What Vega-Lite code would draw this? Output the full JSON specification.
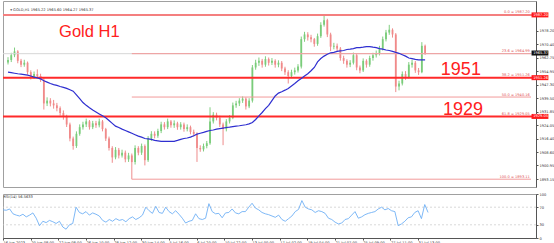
{
  "$schema": "https://vega.github.io/schema/vega-lite/v6.json",
  "padding": 0,
  "background": "white",
  "spacing": 3,
  "config": {
    "view": {"stroke": "#a0a0a0", "strokeWidth": 1},
    "axis": {"labelFont": "DejaVu Sans", "labelFontSize": 3.6, "labelColor": "#333", "domainColor": "#555", "tickColor": "#555", "tickSize": 2, "grid": false, "title": null, "labelPadding": 1, "labelOverlap": false}
  },
  "datasets": {
    "bars": [
      {"b":0,"o":1960.0,"h":1963.0,"l":1958.8,"c":1961.4,"ma":1954.4,"rsi":64},
      {"b":6,"o":1961.4,"h":1965.5,"l":1960.2,"c":1964.1,"ma":1954.1,"rsi":63},
      {"b":12,"o":1964.1,"h":1968.5,"l":1963.0,"c":1966.3,"ma":1953.8,"rsi":66},
      {"b":18,"o":1966.3,"h":1967.0,"l":1959.5,"c":1960.9,"ma":1953.5,"rsi":55},
      {"b":24,"o":1960.9,"h":1962.0,"l":1957.3,"c":1958.7,"ma":1953.3,"rsi":52},
      {"b":30,"o":1958.7,"h":1961.5,"l":1957.5,"c":1959.8,"ma":1953.0,"rsi":50},
      {"b":36,"o":1959.8,"h":1960.5,"l":1953.0,"c":1954.4,"ma":1952.7,"rsi":54},
      {"b":42,"o":1954.4,"h":1955.5,"l":1950.2,"c":1951.6,"ma":1952.2,"rsi":48},
      {"b":48,"o":1951.6,"h":1954.8,"l":1950.5,"c":1953.3,"ma":1951.6,"rsi":52},
      {"b":54,"o":1953.3,"h":1956.0,"l":1951.0,"c":1952.2,"ma":1951.1,"rsi":57},
      {"b":60,"o":1952.2,"h":1953.5,"l":1948.8,"c":1950.0,"ma":1950.6,"rsi":45},
      {"b":66,"o":1950.0,"h":1951.0,"l":1933.0,"c":1936.5,"ma":1949.5,"rsi":28},
      {"b":72,"o":1936.5,"h":1940.0,"l":1935.0,"c":1938.1,"ma":1948.7,"rsi":38},
      {"b":78,"o":1938.1,"h":1939.5,"l":1934.8,"c":1936.5,"ma":1947.9,"rsi":35},
      {"b":84,"o":1936.5,"h":1938.5,"l":1933.5,"c":1935.4,"ma":1947.3,"rsi":40},
      {"b":90,"o":1935.4,"h":1936.8,"l":1932.0,"c":1933.8,"ma":1946.8,"rsi":37},
      {"b":96,"o":1933.8,"h":1934.8,"l":1929.5,"c":1931.0,"ma":1946.2,"rsi":33},
      {"b":102,"o":1931.0,"h":1932.5,"l":1927.2,"c":1928.9,"ma":1945.7,"rsi":38},
      {"b":108,"o":1928.9,"h":1930.0,"l":1923.0,"c":1924.5,"ma":1945.1,"rsi":25},
      {"b":114,"o":1924.5,"h":1925.5,"l":1914.8,"c":1916.4,"ma":1944.3,"rsi":20},
      {"b":120,"o":1916.4,"h":1917.5,"l":1910.0,"c":1912.1,"ma":1943.5,"rsi":30},
      {"b":126,"o":1912.1,"h":1920.5,"l":1911.0,"c":1919.1,"ma":1941.4,"rsi":33},
      {"b":132,"o":1919.1,"h":1924.5,"l":1918.0,"c":1922.9,"ma":1939.2,"rsi":70},
      {"b":138,"o":1922.9,"h":1926.0,"l":1921.5,"c":1924.5,"ma":1937.0,"rsi":58},
      {"b":144,"o":1924.5,"h":1927.8,"l":1923.0,"c":1926.2,"ma":1935.4,"rsi":55},
      {"b":150,"o":1926.2,"h":1927.0,"l":1921.5,"c":1922.9,"ma":1934.0,"rsi":60},
      {"b":156,"o":1922.9,"h":1926.5,"l":1921.8,"c":1925.1,"ma":1932.7,"rsi":52},
      {"b":162,"o":1925.1,"h":1926.5,"l":1922.5,"c":1924.0,"ma":1931.6,"rsi":57},
      {"b":168,"o":1924.0,"h":1927.8,"l":1922.8,"c":1926.2,"ma":1930.5,"rsi":54},
      {"b":174,"o":1926.2,"h":1927.0,"l":1920.5,"c":1921.8,"ma":1929.4,"rsi":50},
      {"b":180,"o":1921.8,"h":1922.5,"l":1915.0,"c":1916.4,"ma":1928.3,"rsi":40},
      {"b":186,"o":1916.4,"h":1917.5,"l":1909.5,"c":1911.0,"ma":1926.7,"rsi":36},
      {"b":192,"o":1911.0,"h":1912.0,"l":1902.5,"c":1905.6,"ma":1925.1,"rsi":42},
      {"b":198,"o":1905.6,"h":1911.5,"l":1904.5,"c":1909.9,"ma":1923.5,"rsi":38},
      {"b":204,"o":1909.9,"h":1911.0,"l":1905.0,"c":1906.7,"ma":1922.7,"rsi":44},
      {"b":210,"o":1906.7,"h":1910.0,"l":1905.5,"c":1908.3,"ma":1921.8,"rsi":40},
      {"b":216,"o":1908.3,"h":1909.5,"l":1902.8,"c":1904.5,"ma":1921.0,"rsi":42},
      {"b":222,"o":1904.5,"h":1908.2,"l":1903.0,"c":1906.7,"ma":1920.2,"rsi":37},
      {"b":228,"o":1906.7,"h":1907.8,"l":1893.1,"c":1902.9,"ma":1919.4,"rsi":44},
      {"b":234,"o":1902.9,"h":1912.5,"l":1901.5,"c":1911.0,"ma":1918.6,"rsi":48},
      {"b":240,"o":1911.0,"h":1912.0,"l":1906.8,"c":1908.3,"ma":1917.8,"rsi":42},
      {"b":246,"o":1908.3,"h":1913.5,"l":1907.0,"c":1912.1,"ma":1917.2,"rsi":46},
      {"b":252,"o":1912.1,"h":1913.0,"l":1901.0,"c":1904.0,"ma":1916.4,"rsi":52},
      {"b":258,"o":1904.0,"h":1917.8,"l":1903.0,"c":1916.4,"ma":1916.2,"rsi":70},
      {"b":264,"o":1916.4,"h":1920.6,"l":1915.0,"c":1919.1,"ma":1915.9,"rsi":62},
      {"b":270,"o":1919.1,"h":1920.5,"l":1916.5,"c":1918.0,"ma":1915.3,"rsi":56},
      {"b":276,"o":1918.0,"h":1922.0,"l":1916.8,"c":1920.7,"ma":1915.1,"rsi":72},
      {"b":282,"o":1920.7,"h":1926.0,"l":1919.5,"c":1924.5,"ma":1914.8,"rsi":58},
      {"b":288,"o":1924.5,"h":1925.8,"l":1921.5,"c":1922.9,"ma":1914.8,"rsi":56},
      {"b":294,"o":1922.9,"h":1927.8,"l":1921.8,"c":1926.2,"ma":1914.8,"rsi":70},
      {"b":300,"o":1926.2,"h":1927.0,"l":1922.6,"c":1924.0,"ma":1914.8,"rsi":60},
      {"b":306,"o":1924.0,"h":1926.8,"l":1922.5,"c":1925.1,"ma":1914.8,"rsi":55},
      {"b":312,"o":1925.1,"h":1926.0,"l":1921.4,"c":1922.9,"ma":1915.3,"rsi":62},
      {"b":318,"o":1922.9,"h":1925.8,"l":1921.5,"c":1924.5,"ma":1915.9,"rsi":54},
      {"b":324,"o":1924.5,"h":1925.5,"l":1920.3,"c":1921.8,"ma":1916.4,"rsi":45},
      {"b":330,"o":1921.8,"h":1924.5,"l":1920.5,"c":1922.9,"ma":1916.7,"rsi":34},
      {"b":336,"o":1922.9,"h":1923.8,"l":1918.8,"c":1920.2,"ma":1917.2,"rsi":38},
      {"b":342,"o":1920.2,"h":1921.5,"l":1917.5,"c":1919.1,"ma":1918.0,"rsi":40},
      {"b":348,"o":1919.1,"h":1920.0,"l":1903.0,"c":1911.0,"ma":1918.9,"rsi":55},
      {"b":354,"o":1911.0,"h":1912.5,"l":1908.8,"c":1910.2,"ma":1919.4,"rsi":44},
      {"b":360,"o":1910.2,"h":1913.5,"l":1909.0,"c":1912.1,"ma":1919.9,"rsi":42},
      {"b":366,"o":1912.1,"h":1915.0,"l":1910.8,"c":1913.7,"ma":1920.5,"rsi":45},
      {"b":372,"o":1913.7,"h":1934.3,"l":1912.8,"c":1926.2,"ma":1921.0,"rsi":78},
      {"b":378,"o":1926.2,"h":1931.5,"l":1925.0,"c":1930.0,"ma":1921.3,"rsi":60},
      {"b":384,"o":1930.0,"h":1931.2,"l":1926.8,"c":1928.3,"ma":1921.8,"rsi":55},
      {"b":390,"o":1928.3,"h":1929.5,"l":1923.0,"c":1924.5,"ma":1922.1,"rsi":56},
      {"b":396,"o":1924.5,"h":1925.5,"l":1912.6,"c":1921.8,"ma":1922.4,"rsi":46},
      {"b":402,"o":1921.8,"h":1927.5,"l":1920.5,"c":1926.2,"ma":1922.7,"rsi":57},
      {"b":408,"o":1926.2,"h":1929.8,"l":1925.0,"c":1928.3,"ma":1922.9,"rsi":58},
      {"b":414,"o":1928.3,"h":1937.0,"l":1927.5,"c":1935.4,"ma":1923.2,"rsi":66},
      {"b":420,"o":1935.4,"h":1938.0,"l":1934.0,"c":1936.5,"ma":1923.5,"rsi":57},
      {"b":426,"o":1936.5,"h":1939.5,"l":1935.0,"c":1938.1,"ma":1923.7,"rsi":55},
      {"b":432,"o":1938.1,"h":1940.5,"l":1936.8,"c":1939.2,"ma":1924.0,"rsi":60},
      {"b":438,"o":1939.2,"h":1940.0,"l":1933.0,"c":1934.8,"ma":1924.3,"rsi":60},
      {"b":444,"o":1934.8,"h":1939.5,"l":1933.8,"c":1938.1,"ma":1924.8,"rsi":70},
      {"b":450,"o":1938.1,"h":1958.5,"l":1937.0,"c":1957.1,"ma":1925.6,"rsi":79},
      {"b":456,"o":1957.1,"h":1961.5,"l":1955.8,"c":1959.8,"ma":1927.3,"rsi":68},
      {"b":462,"o":1959.8,"h":1962.8,"l":1958.0,"c":1960.9,"ma":1929.4,"rsi":64},
      {"b":468,"o":1960.9,"h":1962.0,"l":1957.0,"c":1958.7,"ma":1931.3,"rsi":58},
      {"b":474,"o":1958.7,"h":1963.5,"l":1957.5,"c":1961.9,"ma":1933.5,"rsi":55},
      {"b":480,"o":1961.9,"h":1962.8,"l":1958.2,"c":1959.8,"ma":1935.4,"rsi":53},
      {"b":486,"o":1959.8,"h":1962.5,"l":1958.5,"c":1960.9,"ma":1938.1,"rsi":50},
      {"b":492,"o":1960.9,"h":1961.8,"l":1957.0,"c":1958.7,"ma":1940.8,"rsi":47},
      {"b":498,"o":1958.7,"h":1961.2,"l":1957.2,"c":1959.8,"ma":1942.4,"rsi":52},
      {"b":504,"o":1959.8,"h":1960.8,"l":1955.0,"c":1956.5,"ma":1943.2,"rsi":42},
      {"b":510,"o":1956.5,"h":1957.5,"l":1952.8,"c":1954.4,"ma":1944.1,"rsi":38},
      {"b":516,"o":1954.4,"h":1955.5,"l":1947.9,"c":1952.2,"ma":1945.1,"rsi":44},
      {"b":522,"o":1952.2,"h":1955.8,"l":1951.0,"c":1954.4,"ma":1946.5,"rsi":50},
      {"b":528,"o":1954.4,"h":1957.0,"l":1953.0,"c":1955.4,"ma":1947.9,"rsi":60},
      {"b":534,"o":1955.4,"h":1959.0,"l":1954.2,"c":1957.6,"ma":1949.5,"rsi":65},
      {"b":540,"o":1957.6,"h":1974.8,"l":1956.5,"c":1973.3,"ma":1950.8,"rsi":85},
      {"b":546,"o":1973.3,"h":1977.5,"l":1971.8,"c":1976.0,"ma":1952.2,"rsi":70},
      {"b":552,"o":1976.0,"h":1977.3,"l":1972.5,"c":1974.4,"ma":1953.5,"rsi":66},
      {"b":558,"o":1974.4,"h":1975.8,"l":1971.5,"c":1973.3,"ma":1955.2,"rsi":64},
      {"b":564,"o":1973.3,"h":1974.0,"l":1969.0,"c":1970.6,"ma":1957.1,"rsi":58},
      {"b":570,"o":1970.6,"h":1976.5,"l":1969.5,"c":1975.0,"ma":1960.3,"rsi":62},
      {"b":576,"o":1975.0,"h":1983.0,"l":1974.0,"c":1981.5,"ma":1962.2,"rsi":60},
      {"b":582,"o":1981.5,"h":1987.2,"l":1980.5,"c":1984.2,"ma":1963.6,"rsi":56},
      {"b":588,"o":1984.2,"h":1985.0,"l":1974.5,"c":1976.0,"ma":1964.7,"rsi":45},
      {"b":594,"o":1976.0,"h":1977.0,"l":1966.5,"c":1969.0,"ma":1965.5,"rsi":42},
      {"b":600,"o":1969.0,"h":1971.2,"l":1967.5,"c":1969.5,"ma":1965.7,"rsi":36},
      {"b":606,"o":1969.5,"h":1970.8,"l":1966.2,"c":1967.9,"ma":1966.3,"rsi":32},
      {"b":612,"o":1967.9,"h":1968.8,"l":1961.0,"c":1962.5,"ma":1966.6,"rsi":34},
      {"b":618,"o":1962.5,"h":1963.8,"l":1959.2,"c":1960.9,"ma":1966.8,"rsi":42},
      {"b":624,"o":1960.9,"h":1961.8,"l":1957.0,"c":1958.7,"ma":1967.4,"rsi":44},
      {"b":630,"o":1958.7,"h":1961.3,"l":1957.3,"c":1959.8,"ma":1967.6,"rsi":52},
      {"b":636,"o":1959.8,"h":1965.6,"l":1958.8,"c":1964.1,"ma":1967.9,"rsi":60},
      {"b":642,"o":1964.1,"h":1965.0,"l":1955.5,"c":1957.1,"ma":1968.5,"rsi":45},
      {"b":648,"o":1957.1,"h":1958.2,"l":1953.8,"c":1955.4,"ma":1968.5,"rsi":48},
      {"b":654,"o":1955.4,"h":1962.3,"l":1954.5,"c":1960.9,"ma":1968.7,"rsi":53},
      {"b":660,"o":1960.9,"h":1961.8,"l":1957.0,"c":1958.7,"ma":1969.0,"rsi":56},
      {"b":666,"o":1958.7,"h":1963.8,"l":1957.5,"c":1962.5,"ma":1969.0,"rsi":58},
      {"b":672,"o":1962.5,"h":1965.5,"l":1961.0,"c":1964.1,"ma":1968.7,"rsi":60},
      {"b":678,"o":1964.1,"h":1966.8,"l":1962.8,"c":1965.2,"ma":1968.5,"rsi":66},
      {"b":684,"o":1965.2,"h":1969.5,"l":1964.0,"c":1967.9,"ma":1967.9,"rsi":70},
      {"b":690,"o":1967.9,"h":1974.8,"l":1966.8,"c":1973.3,"ma":1967.6,"rsi":64},
      {"b":696,"o":1973.3,"h":1978.6,"l":1972.0,"c":1977.1,"ma":1967.1,"rsi":67},
      {"b":702,"o":1977.1,"h":1981.5,"l":1975.8,"c":1978.7,"ma":1966.8,"rsi":62},
      {"b":708,"o":1978.7,"h":1979.5,"l":1974.2,"c":1976.0,"ma":1966.3,"rsi":60},
      {"b":714,"o":1976.0,"h":1976.8,"l":1943.0,"c":1946.2,"ma":1965.7,"rsi":28},
      {"b":720,"o":1946.2,"h":1949.5,"l":1944.0,"c":1947.9,"ma":1965.2,"rsi":32},
      {"b":726,"o":1947.9,"h":1954.8,"l":1946.8,"c":1953.3,"ma":1964.4,"rsi":38},
      {"b":732,"o":1953.3,"h":1955.0,"l":1950.0,"c":1951.6,"ma":1963.6,"rsi":46},
      {"b":738,"o":1951.6,"h":1960.2,"l":1950.8,"c":1958.7,"ma":1962.5,"rsi":48},
      {"b":744,"o":1958.7,"h":1961.5,"l":1957.0,"c":1959.8,"ma":1962.2,"rsi":58},
      {"b":750,"o":1959.8,"h":1960.8,"l":1954.0,"c":1955.4,"ma":1961.7,"rsi":62},
      {"b":756,"o":1955.4,"h":1956.8,"l":1952.8,"c":1954.4,"ma":1961.4,"rsi":44},
      {"b":762,"o":1954.4,"h":1971.6,"l":1953.8,"c":1969.5,"ma":1961.4,"rsi":76},
      {"b":768,"o":1969.5,"h":1970.2,"l":1964.3,"c":1965.4,"ma":1961.4,"rsi":58}
    ],
    "fib": [
      {"lvl":"0.0","p":1987.20},
      {"lvl":"23.6","p":1964.99},
      {"lvl":"38.2","p":1951.26},
      {"lvl":"50.0","p":1940.16},
      {"lvl":"61.8","p":1929.05},
      {"lvl":"100.0","p":1893.11}
    ],
    "tags": [
      {"p":1987.20,"kind":"line"},
      {"p":1965.37,"kind":"price"},
      {"p":1951.26,"kind":"line"},
      {"p":1929.05,"kind":"line"}
    ]
  },
  "vconcat": [
    {
      "width": 533,
      "height": 186,
      "layer": [
        {
          "data": {"name": "bars"},
          "mark": {"type": "rule", "strokeWidth": 0.9},
          "encoding": {
            "x": {"field": "b", "type": "quantitative", "scale": {"domain": [0, 963], "nice": false, "zero": false}, "axis": null},
            "y": {"field": "l", "type": "quantitative", "scale": {"domain": [1891.5, 1992.3], "nice": false, "zero": false},
                  "axis": {"orient": "right", "values": [1978.2, 1970.4, 1962.75, 1954.95, 1947.3, 1939.5, 1931.85, 1924.05, 1916.4, 1908.6, 1900.95, 1893.15], "format": ".2f"}},
            "y2": {"field": "h"},
            "color": {"condition": {"test": "datum.c >= datum.o", "value": "#72c872"}, "value": "#ec7f7f"}
          }
        },
        {
          "data": {"name": "bars"},
          "mark": {"type": "bar", "size": 1.8, "orient": "vertical"},
          "encoding": {
            "x": {"field": "b", "type": "quantitative", "axis": null},
            "y": {"field": "o", "type": "quantitative", "axis": {"orient": "right", "values": [1978.2, 1970.4, 1962.75, 1954.95, 1947.3, 1939.5, 1931.85, 1924.05, 1916.4, 1908.6, 1900.95, 1893.15], "format": ".2f"}},
            "y2": {"field": "c"},
            "color": {"condition": {"test": "datum.c >= datum.o", "value": "#7acc7a"}, "value": "#f08a8a"}
          }
        },
        {
          "data": {"name": "fib"},
          "transform": [{"filter": "datum.lvl == '23.6'"}],
          "mark": {"type": "rule", "color": "#d6d6d6", "strokeWidth": 1},
          "encoding": {"y": {"field": "p", "type": "quantitative", "axis": {"orient": "right", "values": [1978.2, 1970.4, 1962.75, 1954.95, 1947.3, 1939.5, 1931.85, 1924.05, 1916.4, 1908.6, 1900.95, 1893.15], "format": ".2f"}}}
        },
        {
          "data": {"name": "fib"},
          "transform": [{"filter": "datum.lvl == '23.6' || datum.lvl == '50.0' || datum.lvl == '100.0'"}],
          "mark": {"type": "rule", "color": "#f29a9a", "strokeWidth": 1},
          "encoding": {"x": {"datum": 228, "type": "quantitative", "axis": null}, "x2": {"datum": 963}, "y": {"field": "p", "type": "quantitative", "axis": {"orient": "right", "values": [1978.2, 1970.4, 1962.75, 1954.95, 1947.3, 1939.5, 1931.85, 1924.05, 1916.4, 1908.6, 1900.95, 1893.15], "format": ".2f"}}}
        },
        {
          "data": {"name": "fib"},
          "transform": [{"filter": "datum.lvl == '0.0'"}],
          "mark": {"type": "rule", "color": "#f47f7f", "strokeWidth": 2},
          "encoding": {"y": {"field": "p", "type": "quantitative", "axis": {"orient": "right", "values": [1978.2, 1970.4, 1962.75, 1954.95, 1947.3, 1939.5, 1931.85, 1924.05, 1916.4, 1908.6, 1900.95, 1893.15], "format": ".2f"}}}
        },
        {
          "data": {"name": "fib"},
          "transform": [{"filter": "datum.lvl == '38.2' || datum.lvl == '61.8'"}],
          "mark": {"type": "rule", "color": "#ff2a2a", "strokeWidth": 2},
          "encoding": {"y": {"field": "p", "type": "quantitative", "axis": {"orient": "right", "values": [1978.2, 1970.4, 1962.75, 1954.95, 1947.3, 1939.5, 1931.85, 1924.05, 1916.4, 1908.6, 1900.95, 1893.15], "format": ".2f"}}}
        },
        {
          "mark": {"type": "rule", "color": "#f2a0a0", "strokeWidth": 0.8, "strokeDash": [2, 2]},
          "encoding": {"x": {"datum": 228, "type": "quantitative", "axis": null}, "y": {"datum": 1893.11, "type": "quantitative", "axis": {"orient": "right", "values": [1978.2, 1970.4, 1962.75, 1954.95, 1947.3, 1939.5, 1931.85, 1924.05, 1916.4, 1908.6, 1900.95, 1893.15], "format": ".2f"}}, "x2": {"datum": 582}, "y2": {"datum": 1987.2}}
        },
        {
          "data": {"name": "bars"},
          "mark": {"type": "line", "color": "#2f2fd0", "strokeWidth": 1.2},
          "encoding": {"x": {"field": "b", "type": "quantitative", "axis": null}, "y": {"field": "ma", "type": "quantitative", "axis": {"orient": "right", "values": [1978.2, 1970.4, 1962.75, 1954.95, 1947.3, 1939.5, 1931.85, 1924.05, 1916.4, 1908.6, 1900.95, 1893.15], "format": ".2f"}}}
        },
        {
          "data": {"name": "fib"},
          "mark": {"type": "text", "align": "right", "baseline": "bottom", "dy": -0.5, "fontSize": 3.6, "font": "DejaVu Sans", "color": "#e05555"},
          "encoding": {"x": {"datum": 961, "type": "quantitative", "axis": null}, "y": {"field": "p", "type": "quantitative", "axis": {"orient": "right", "values": [1978.2, 1970.4, 1962.75, 1954.95, 1947.3, 1939.5, 1931.85, 1924.05, 1916.4, 1908.6, 1900.95, 1893.15], "format": ".2f"}}, "text": {"field": "lbl"}},
          "transform": [{"calculate": "datum.lvl + ' = ' + format(datum.p, '.2f')", "as": "lbl"}]
        },
        {
          "data": {"values": [{"t": "Gold H1", "b": 94, "p": 1974.4}, {"t": "1951", "b": 797, "p": 1952.7}, {"t": "1929", "b": 801, "p": 1929.6}]},
          "mark": {"type": "text", "align": "left", "baseline": "alphabetic", "font": "Liberation Sans", "color": "#ff2020"},
          "encoding": {
            "x": {"field": "b", "type": "quantitative", "axis": null},
            "y": {"field": "p", "type": "quantitative", "axis": {"orient": "right", "values": [1978.2, 1970.4, 1962.75, 1954.95, 1947.3, 1939.5, 1931.85, 1924.05, 1916.4, 1908.6, 1900.95, 1893.15], "format": ".2f"}},
            "text": {"field": "t"},
            "size": {"condition": {"test": "datum.t == 'Gold H1'", "value": 16.5}, "value": 18}
          }
        },
        {
          "data": {"name": "tags"},
          "mark": {"type": "bar", "orient": "horizontal", "size": 5},
          "encoding": {
            "x": {"datum": 964, "type": "quantitative", "axis": null},
            "x2": {"datum": 995},
            "y": {"field": "p", "type": "quantitative", "axis": {"orient": "right", "values": [1978.2, 1970.4, 1962.75, 1954.95, 1947.3, 1939.5, 1931.85, 1924.05, 1916.4, 1908.6, 1900.95, 1893.15], "format": ".2f"}},
            "color": {"condition": {"test": "datum.kind == 'price'", "value": "#111111"}, "value": "#ff1a1a"}
          }
        },
        {
          "data": {"name": "tags"},
          "mark": {"type": "text", "align": "left", "baseline": "middle", "fontSize": 3.6, "font": "DejaVu Sans", "color": "white"},
          "encoding": {"x": {"datum": 967, "type": "quantitative", "axis": null}, "y": {"field": "p", "type": "quantitative", "axis": {"orient": "right", "values": [1978.2, 1970.4, 1962.75, 1954.95, 1947.3, 1939.5, 1931.85, 1924.05, 1916.4, 1908.6, 1900.95, 1893.15], "format": ".2f"}}, "text": {"field": "p", "format": ".2f"}}
        },
        {
          "data": {"values": [{"t": "▾ GOLD,H1  1965.22 1965.60 1964.27 1965.37"}]},
          "mark": {"type": "text", "align": "left", "baseline": "middle", "fontSize": 3.6, "font": "DejaVu Sans", "color": "#333"},
          "encoding": {"x": {"datum": 4, "type": "quantitative", "axis": null}, "y": {"datum": 1990.2, "type": "quantitative", "axis": {"orient": "right", "values": [1978.2, 1970.4, 1962.75, 1954.95, 1947.3, 1939.5, 1931.85, 1924.05, 1916.4, 1908.6, 1900.95, 1893.15], "format": ".2f"}}, "text": {"field": "t"}}
        }
      ]
    },
    {
      "width": 533,
      "height": 44,
      "layer": [
        {
          "data": {"values": [{"v": 70}, {"v": 30}]},
          "mark": {"type": "rule", "color": "#c8c8c8", "strokeWidth": 0.7, "strokeDash": [2, 2]},
          "encoding": {"y": {"field": "v", "type": "quantitative", "scale": {"domain": [0, 100], "nice": false}, "axis": {"orient": "right", "values": [0, 30, 70, 100]}}}
        },
        {
          "data": {"name": "bars"},
          "mark": {"type": "line", "color": "#6fb0f5", "strokeWidth": 0.9},
          "encoding": {
            "x": {"field": "b", "type": "quantitative", "scale": {"domain": [0, 963], "nice": false, "zero": false},
                  "axis": {"values": [0, 50, 100, 150, 200, 250, 300, 350, 400, 450, 500, 550, 600, 650, 700, 750], "labelAlign": "left", "labelFlush": false, "labelOverlap": false, "labelPadding": 0,
                           "labelExpr": "['16 Jun 2023','20 Jun 08:00','22 Jun 08:00','26 Jun 10:00','28 Jun 12:00','30 Jun 14:00','5 Jul 16:00','6 Jul 20:00','10 Jul 22:00','13 Jul 00:00','17 Jul 02:00','19 Jul 04:00','21 Jul 07:00','25 Jul 09:00','27 Jul 11:00','31 Jul 13:00'][round(datum.value/50)]"}},
            "y": {"field": "rsi", "type": "quantitative", "scale": {"domain": [0, 100], "nice": false},
                  "axis": {"orient": "right", "values": [0, 30, 70, 100]}}
          }
        },
        {
          "data": {"values": [{"t": "RSI(14) 56.5633"}]},
          "mark": {"type": "text", "align": "left", "baseline": "middle", "fontSize": 3.6, "font": "DejaVu Sans", "color": "#333"},
          "encoding": {
            "x": {"datum": 1, "type": "quantitative",
                  "axis": {"values": [0, 50, 100, 150, 200, 250, 300, 350, 400, 450, 500, 550, 600, 650, 700, 750], "labelAlign": "left", "labelFlush": false, "labelOverlap": false, "labelPadding": 0,
                           "labelExpr": "['16 Jun 2023','20 Jun 08:00','22 Jun 08:00','26 Jun 10:00','28 Jun 12:00','30 Jun 14:00','5 Jul 16:00','6 Jul 20:00','10 Jul 22:00','13 Jul 00:00','17 Jul 02:00','19 Jul 04:00','21 Jul 07:00','25 Jul 09:00','27 Jul 11:00','31 Jul 13:00'][round(datum.value/50)]"}},
            "y": {"datum": 94, "type": "quantitative", "axis": {"orient": "right", "values": [0, 30, 70, 100]}},
            "text": {"field": "t"}
          }
        }
      ]
    }
  ]
}
